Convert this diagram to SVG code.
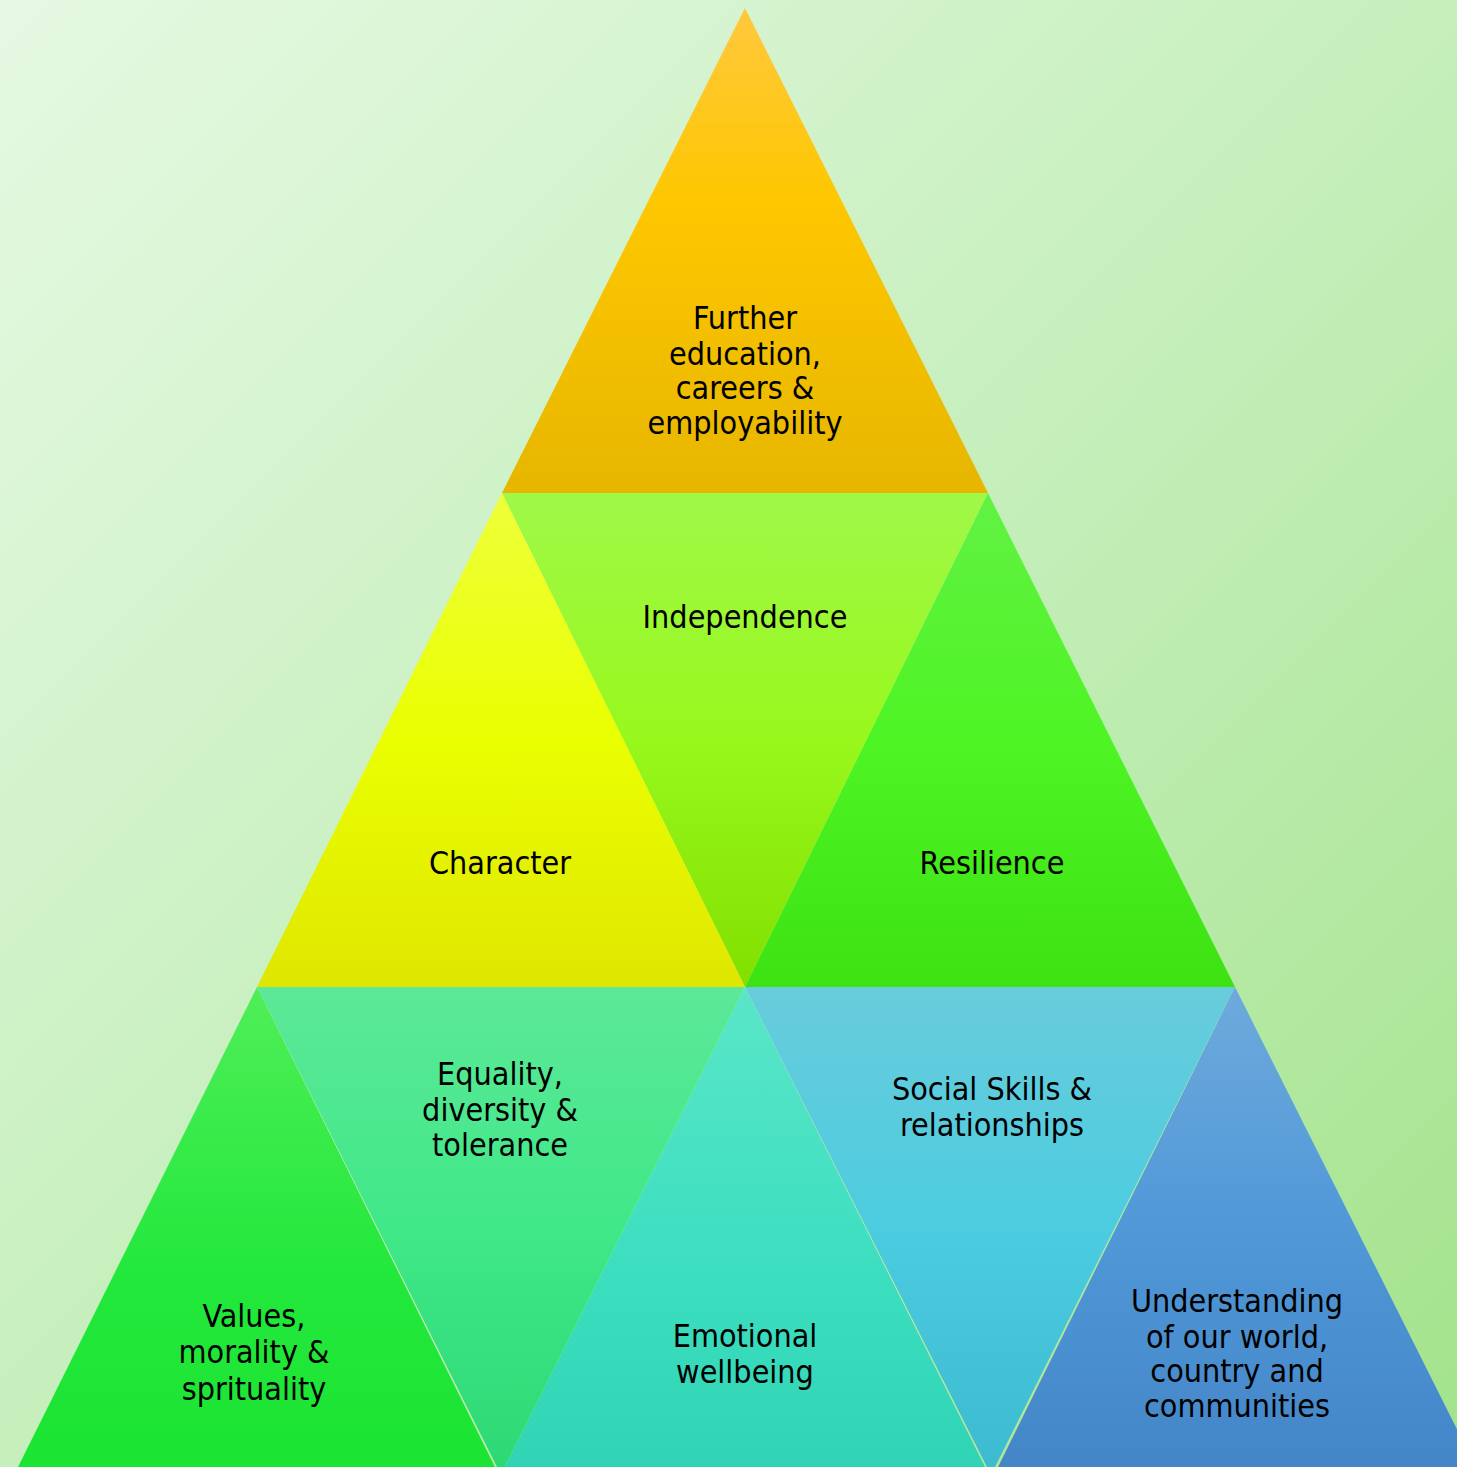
<svg xmlns="http://www.w3.org/2000/svg" width="1457" height="1467" viewBox="0 0 1457 1467">
<defs>
<linearGradient id="bg" x1="0" y1="0" x2="1" y2="1">
<stop offset="0" stop-color="#e6f9e3"/>
<stop offset="0.5" stop-color="#c6efbc"/>
<stop offset="1" stop-color="#a3e38b"/>
</linearGradient>
<linearGradient id="gTop" x1="0" y1="0" x2="0" y2="1"><stop offset="0" stop-color="#ffc83e"/><stop offset="0.4" stop-color="#fec700"/><stop offset="1" stop-color="#e6b600"/></linearGradient>
<linearGradient id="gInd" x1="0" y1="0" x2="0" y2="1"><stop offset="0" stop-color="#a0f848"/><stop offset="0.5" stop-color="#98f81c"/><stop offset="1" stop-color="#82e000"/></linearGradient>
<linearGradient id="gChar" x1="0" y1="0" x2="0" y2="1"><stop offset="0" stop-color="#eeff3a"/><stop offset="0.5" stop-color="#eaff00"/><stop offset="1" stop-color="#dfe600"/></linearGradient>
<linearGradient id="gRes" x1="0" y1="0" x2="0" y2="1"><stop offset="0" stop-color="#62f244"/><stop offset="0.5" stop-color="#4ef424"/><stop offset="1" stop-color="#3ee212"/></linearGradient>
<linearGradient id="gEq" x1="0" y1="0" x2="0" y2="1"><stop offset="0" stop-color="#5ce898"/><stop offset="0.5" stop-color="#40e888"/><stop offset="1" stop-color="#2cd874"/></linearGradient>
<linearGradient id="gSoc" x1="0" y1="0" x2="0" y2="1"><stop offset="0" stop-color="#68ccdc"/><stop offset="0.5" stop-color="#4ccce0"/><stop offset="1" stop-color="#3cbad0"/></linearGradient>
<linearGradient id="gVal" x1="0" y1="0" x2="0" y2="1"><stop offset="0" stop-color="#50ee58"/><stop offset="0.6" stop-color="#22e83c"/><stop offset="1" stop-color="#1ce432"/></linearGradient>
<linearGradient id="gEmo" x1="0" y1="0" x2="0" y2="1"><stop offset="0" stop-color="#5ae6c8"/><stop offset="0.6" stop-color="#3cdec0"/><stop offset="1" stop-color="#30d4b4"/></linearGradient>
<linearGradient id="gUnd" x1="0" y1="0" x2="0" y2="1"><stop offset="0" stop-color="#6eaadc"/><stop offset="0.5" stop-color="#5098d8"/><stop offset="1" stop-color="#4486c8"/></linearGradient>
</defs>
<style>
text{font-family:"DejaVu Sans Condensed","DejaVu Sans",sans-serif;font-size:32px;fill:#000;text-anchor:middle}
</style>
<rect x="0" y="0" width="1457" height="1467" fill="url(#bg)"/>
<g id="connectors"/>
<g id="n-independence">
<polygon points="502,493 988,493 745,987" fill="url(#gInd)"/>
<text x="745" y="628">Independence</text>
</g>
<g id="n-equality">
<polygon points="257,987 745,987 501,1475" fill="url(#gEq)"/>
<text x="500" y="1085">Equality,</text>
<text x="500" y="1121">diversity &amp;</text>
<text x="500" y="1156">tolerance</text>
</g>
<g id="n-social">
<polygon points="745,987 1235,987 991,1475" fill="url(#gSoc)"/>
<text x="992" y="1100">Social Skills &amp;</text>
<text x="992" y="1136">relationships</text>
</g>
<g id="n-further">
<polygon points="745,8 502,493 988,493" fill="url(#gTop)"/>
<text x="745" y="329">Further</text>
<text x="745" y="365">education,</text>
<text x="745" y="399">careers &amp;</text>
<text x="745" y="434">employability</text>
</g>
<g id="n-character">
<polygon points="502,493 257,987 745,987" fill="url(#gChar)"/>
<text x="500" y="874">Character</text>
</g>
<g id="n-resilience">
<polygon points="988,493 745,987 1235,987" fill="url(#gRes)"/>
<text x="992" y="874">Resilience</text>
</g>
<g id="n-values">
<polygon points="257,987 18,1467 495,1467" fill="url(#gVal)"/>
<text x="254" y="1327">Values,</text>
<text x="254" y="1363">morality &amp;</text>
<text x="254" y="1400">sprituality</text>
</g>
<g id="n-emotional">
<polygon points="745,987 505,1467 985,1467" fill="url(#gEmo)"/>
<text x="745" y="1347">Emotional</text>
<text x="745" y="1383">wellbeing</text>
</g>
<g id="n-understanding">
<polygon points="1235,987 998,1467 1476,1467" fill="url(#gUnd)"/>
<text x="1237" y="1312">Understanding</text>
<text x="1237" y="1348">of our world,</text>
<text x="1237" y="1382">country and</text>
<text x="1237" y="1417">communities</text>
</g>
</svg>
